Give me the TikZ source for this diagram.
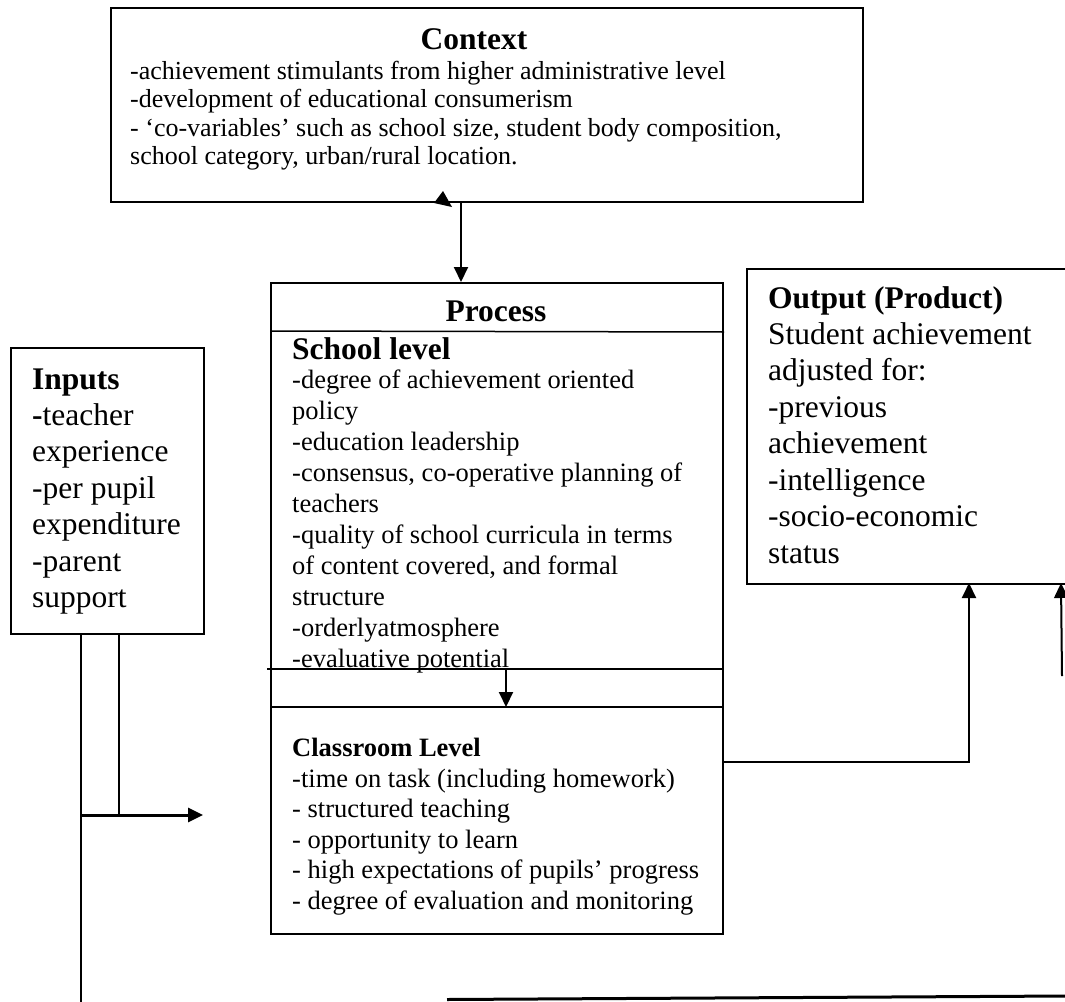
\documentclass[tikz,border=0pt]{standalone}
\usepackage{fontspec}
\setmainfont{Liberation Serif}
\usetikzlibrary{arrows.meta}
\newcommand\hdfont{\fontsize{31.5}{36.5}\selectfont\bfseries}
\newcommand\bgfont{\fontsize{31.5}{36.5}\selectfont}
\newcommand\ctxfont{\fontsize{26}{28.5}\selectfont}
\newcommand\smfont{\fontsize{26.5}{31}\selectfont}
\newcommand\clfont{\fontsize{26.5}{30.5}\selectfont}
\newcommand\smbold{\fontsize{26.5}{30.5}\selectfont\bfseries}
\begin{document}
\begin{tikzpicture}[x=1pt,y=-1pt,
  boxst/.style={draw, line width=1.5pt, inner sep=0pt, anchor=north west},
  txt/.style={anchor=base west, inner sep=0pt},
  conn/.style={line width=2pt, -{Triangle[length=15pt,width=14pt]}},
  plain/.style={line width=1.5pt}]
\useasboundingbox (0,0) rectangle (1065,1001);
\clip (0,0) rectangle (1065,1001);

% boxes
\node[boxst, minimum width=752pt, minimum height=194pt] (context) at (110,7) {};
\node[boxst, minimum width=452pt, minimum height=651pt] (process) at (270,282) {};
\node[boxst, minimum width=193pt, minimum height=286pt] (inputs) at (10,347) {};
\node[boxst, minimum width=340pt, minimum height=315pt] (output) at (746,268) {};

% separators inside process
\coordinate (sepTl) at (270,331); \coordinate (sepTr) at (724,332);
\coordinate (sepAl) at (267,669); \coordinate (sepAr) at (724,669);
\coordinate (sepBl) at (270,707); \coordinate (sepBr) at (722,707);
\draw[plain] (sepTl) -- (sepTr);
\draw[plain] (sepAl) -- (sepAr);
\draw[plain] (sepBl) -- (sepBr);

% texts
\node[anchor=base, inner sep=0pt, font=\hdfont] (ctitle) at (474,49) {Context};
\node[txt] (cbody) at (130,79) {\parbox[t]{720pt}{\ctxfont\raggedright
-achievement stimulants from higher administrative level\\
-development of educational consumerism\\
- ‘co-variables’ such as school size, student body composition,\\
school category, urban/rural location.}};

\node[anchor=base, inner sep=0pt, font=\hdfont] (ptitle) at (496,321) {Process};
\node[txt, font=\hdfont] (slhead) at (292,359) {School level};
\node[txt] (slbody) at (292,388) {\parbox[t]{420pt}{\smfont\raggedright
-degree of achievement oriented\\
policy\\
-education leadership\\
-consensus, co-operative planning of\\
teachers\\
-quality of school curricula in terms\\
of content covered, and formal\\
structure\\
-orderlyatmosphere\\
-evaluative potential}};

\node[txt, font=\smbold] (clhead) at (292,756) {Classroom Level};
\node[txt] (clbody) at (292,787) {\parbox[t]{420pt}{\clfont\raggedright
-time on task (including homework)\\
- structured teaching\\
- opportunity to learn\\
- high expectations of pupils’ progress\\
- degree of evaluation and monitoring}};

\node[txt, font=\hdfont] (inhead) at (32,389) {Inputs};
\node[txt] (inbody) at (32,425) {\parbox[t]{170pt}{\bgfont\raggedright
{\bfseries -}teacher\\
experience\\
-per pupil\\
expenditure\\
-parent\\
support}};

\node[txt, font=\hdfont] (outhead) at (768,308) {Output (Product)};
\node[txt] (outbody) at (768,344) {\parbox[t]{290pt}{\bgfont\raggedright
Student achievement\\
adjusted for:\\
-previous\\
achievement\\
-intelligence\\
-socio-economic\\
status}};

% connectors
\coordinate (cdown) at (461,202);
\draw[conn] (cdown) -- (cdown |- process.north);
\fill (443,191) -- (434,203) -- (452,207) -- cycle;

\coordinate (mid1) at (506,669); \coordinate (mid2) at (506,707);
\draw[conn] (mid1) -- (mid2);

\coordinate (pout) at (722,762); \coordinate (oin) at (969,583);
\draw[conn] (pout) -| (oin);
\coordinate (rA) at (1062,676); \coordinate (rB) at (1061,583);
\draw[conn] (rA) -- (rB);

\coordinate (inA) at (81,633); \coordinate (inAend) at (81,1003);
\coordinate (inB) at (119,633); \coordinate (inBend) at (119,815);
\coordinate (arrS) at (81,815); \coordinate (arrE) at (203,815);
\draw[plain] (inA) -- (inAend);
\draw[plain] (inB) -- (inBend);
\draw[line width=3pt, -{Triangle[length=15pt,width=14pt]}] (arrS) -- (arrE);

\coordinate (bl) at (447,999.5); \coordinate (br) at (1066,996);
\draw[line width=3pt] (bl) -- (br);
\end{tikzpicture}
\end{document}
